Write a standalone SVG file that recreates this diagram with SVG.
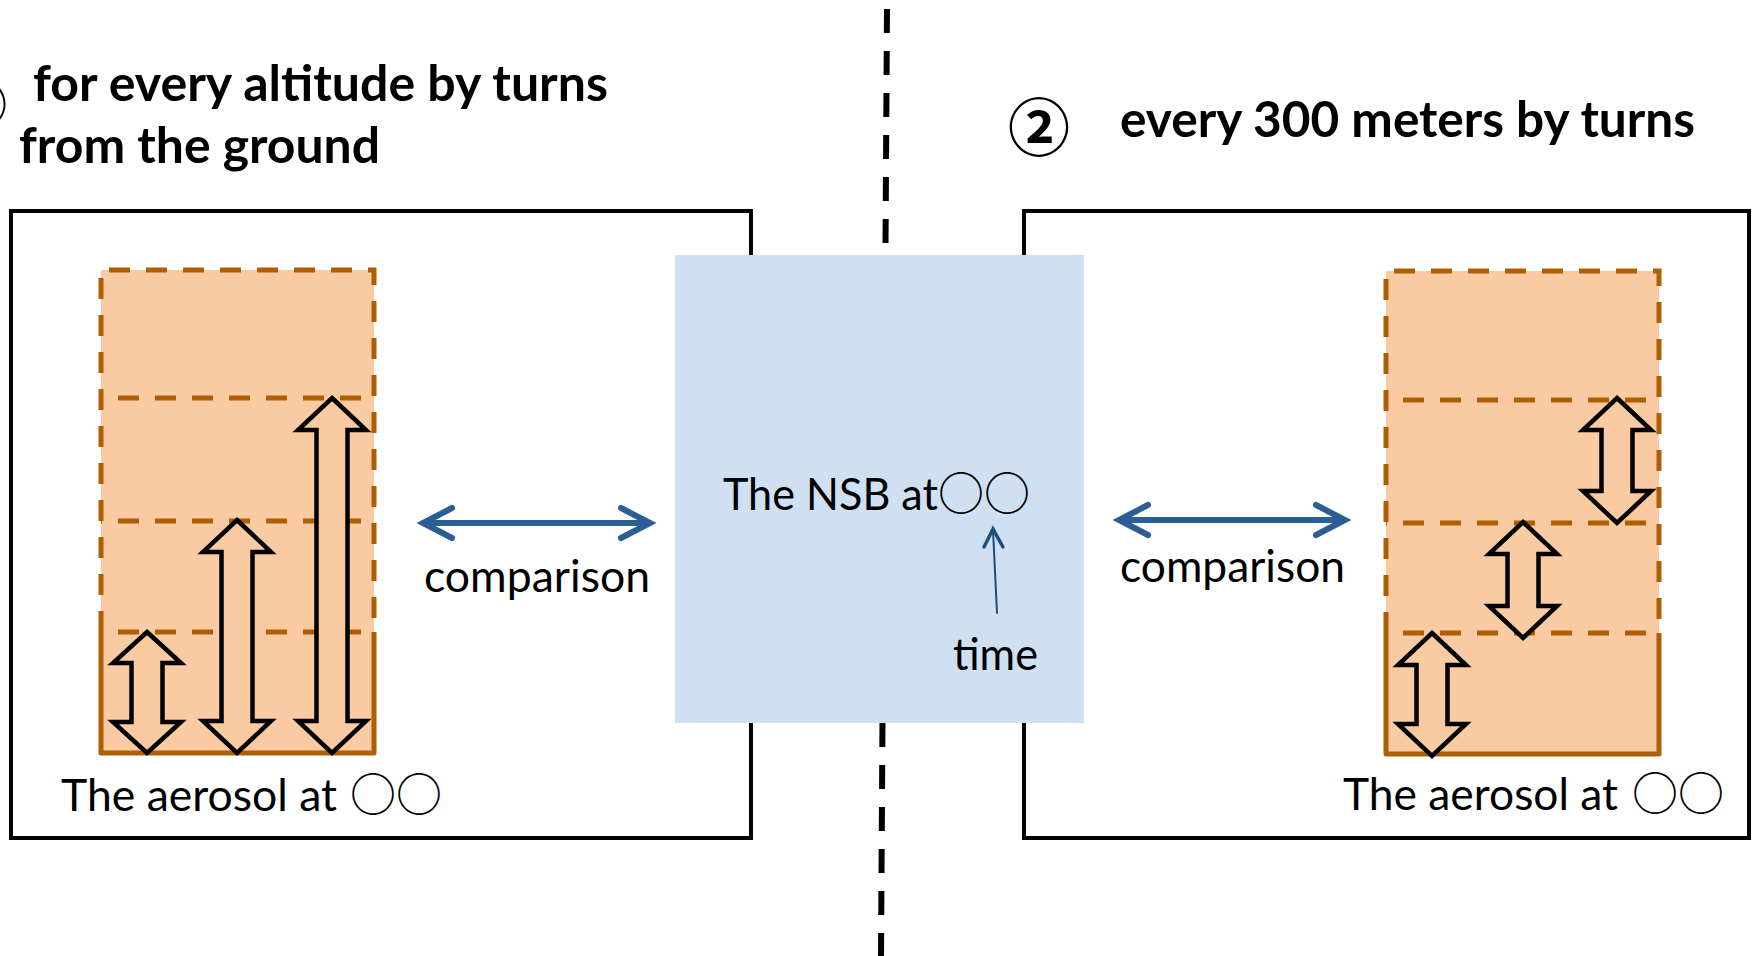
<svg xmlns="http://www.w3.org/2000/svg" width="1752" height="956" viewBox="0 0 1752 956">
<defs>
<style>
.frame{fill:none;stroke:#000;stroke-width:4}
.ofill{fill:#FACBA2;stroke:none}
.odash{fill:none;stroke:#B05F00;stroke-width:5;stroke-dasharray:21 16}
.osolid{fill:none;stroke:#B05F00;stroke-width:5;stroke-linejoin:round}
.barrow{fill:#FACBA2;stroke:#000;stroke-width:4.5;stroke-linejoin:miter}
.title{font-family:Lato,"Noto Sans","Noto Sans CJK JP",sans-serif;font-weight:bold;font-size:49px;fill:#000}
.body{font-family:Lato,"Noto Sans","Noto Sans CJK JP",sans-serif;font-size:44px;fill:#000}
.circ{font-family:"Noto Sans CJK JP",sans-serif;font-size:46px;fill:#000}
.cmp{fill:none;stroke:#2B5F94;stroke-width:6;stroke-linecap:round;stroke-linejoin:miter}
.tarr{fill:none;stroke:#1F4E79;stroke-linecap:round}
</style>
</defs>
<rect width="1752" height="956" fill="#fff"/>

<g id="divider">
<line x1="887" y1="9" x2="881" y2="956" stroke="#000" stroke-width="6" stroke-dasharray="24 18"/>
</g>

<g id="titles">
<text class="circ" x="-45" y="124" style="font-size:52px;font-weight:bold">①</text>
<text class="title" x="33" y="101" textLength="575" lengthAdjust="spacingAndGlyphs">for every altitude by turns</text>
<text class="title" x="19" y="163" textLength="361" lengthAdjust="spacingAndGlyphs">from the ground</text>
<text class="circ" x="1008" y="151" style="font-size:62px;font-weight:bold">②</text>
<text class="title" x="1120" y="137" textLength="575" lengthAdjust="spacingAndGlyphs">every 300 meters by turns</text>
</g>

<g id="left-panel">
<rect class="frame" x="11" y="211" width="740" height="627"/>
<rect class="ofill" x="101" y="270" width="273" height="483"/>
<path class="odash" d="M101,632 V270 H374 V632"/>
<line class="odash" x1="101" y1="398" x2="374" y2="398" stroke-dashoffset="-17"/>
<line class="odash" x1="101" y1="521" x2="374" y2="521" stroke-dashoffset="-17"/>
<line class="odash" x1="101" y1="632" x2="374" y2="632" stroke-dashoffset="-17"/>
<path class="osolid" d="M101,632 V753 H374 V632"/>
<path class="barrow" d="M147,632 L181,663 L162.5,663 L162.5,722 L181,722 L147,753 L113,722 L131.5,722 L131.5,663 L113,663 Z"/>
<path class="barrow" d="M237,520 L271,552 L252.5,552 L252.5,721 L271,721 L237,753 L203,721 L221.5,721 L221.5,552 L203,552 Z"/>
<path class="barrow" d="M332,398 L366,430 L347.5,430 L347.5,721 L366,721 L332,753 L298,721 L316.5,721 L316.5,430 L298,430 Z"/>
<text class="body" y="811"><tspan x="61" textLength="276" lengthAdjust="spacingAndGlyphs">The aerosol at</tspan><tspan class="circ" x="350">○○</tspan></text>
</g>

<g id="right-panel">
<rect class="frame" x="1024" y="211" width="725" height="627"/>
<rect class="ofill" x="1386" y="271" width="273" height="483"/>
<path class="odash" d="M1386,633 V271 H1659 V633"/>
<line class="odash" x1="1386" y1="400" x2="1659" y2="400" stroke-dashoffset="-17"/>
<line class="odash" x1="1386" y1="523" x2="1659" y2="523" stroke-dashoffset="-17"/>
<line class="odash" x1="1386" y1="633" x2="1659" y2="633" stroke-dashoffset="-17"/>
<path class="osolid" d="M1386,633 V754 H1659 V633"/>
<path class="barrow" d="M1617,398 L1651,430 L1632.5,430 L1632.5,491 L1651,491 L1617,523 L1583,491 L1601.5,491 L1601.5,430 L1583,430 Z"/>
<path class="barrow" d="M1523,522 L1557,554 L1538.5,554 L1538.5,606 L1557,606 L1523,638 L1489,606 L1507.5,606 L1507.5,554 L1489,554 Z"/>
<path class="barrow" d="M1432,633 L1466,665 L1447.5,665 L1447.5,724 L1466,724 L1432,756 L1398,724 L1416.5,724 L1416.5,665 L1398,665 Z"/>
<text class="body" y="810"><tspan x="1343" textLength="275" lengthAdjust="spacingAndGlyphs">The aerosol at</tspan><tspan class="circ" x="1632">○○</tspan></text>
</g>

<g id="nsb">
<rect x="675" y="255" width="409" height="468" fill="#CFE0F2"/>
<text class="body" y="510"><tspan x="723" textLength="215" lengthAdjust="spacingAndGlyphs">The NSB at</tspan><tspan class="circ" x="938">○○</tspan></text>
<text class="body" x="953" y="670" textLength="85" lengthAdjust="spacingAndGlyphs">time</text>
</g>

<g id="connectors">
<path class="cmp" d="M424,523 H649"/>
<path class="cmp" d="M452,508 L423,523 L452,538"/>
<path class="cmp" d="M621,508 L650,523 L621,538"/>
<text class="body" x="424" y="592" textLength="226" lengthAdjust="spacingAndGlyphs">comparison</text>
<path class="cmp" d="M1120,520 H1344"/>
<path class="cmp" d="M1148,505 L1119,520 L1148,535"/>
<path class="cmp" d="M1316,505 L1345,520 L1316,535"/>
<text class="body" x="1120" y="582" textLength="225" lengthAdjust="spacingAndGlyphs">comparison</text>
<line class="tarr" x1="997" y1="613" x2="993" y2="530" stroke-width="2"/>
<path class="tarr" d="M984,547 L993,529 L1003,547" stroke-width="3.5"/>
</g>
</svg>
